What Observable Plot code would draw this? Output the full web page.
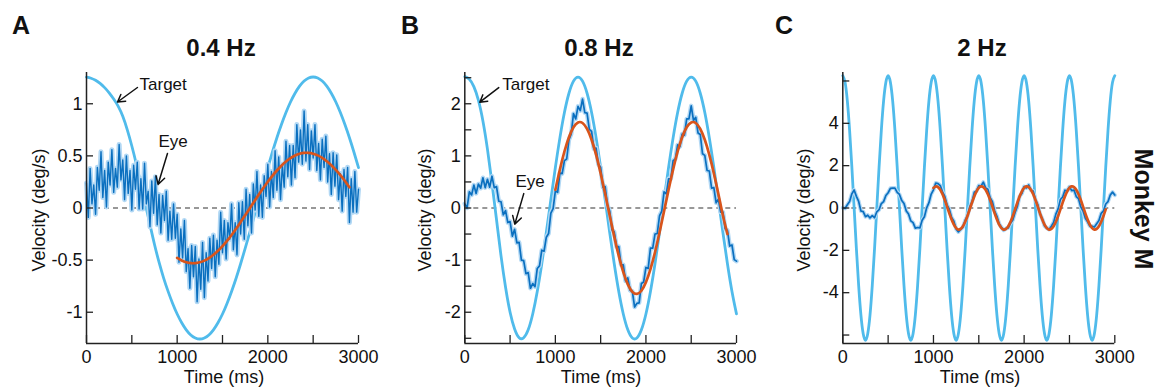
<!DOCTYPE html>
<html><head><meta charset="utf-8">
<script src="https://cdn.jsdelivr.net/npm/d3@7"></script>
<script src="https://cdn.jsdelivr.net/npm/@observablehq/plot@0.6"></script>
<style>
body{margin:0;background:#fff;font-family:"Liberation Sans",Arial,sans-serif;color:#111}
#wrap{position:relative;width:1159px;height:390px;overflow:hidden;background:#fff}
#wrap svg{position:absolute;top:0}
.lbl{position:absolute;white-space:nowrap;line-height:1}
.letter{font-weight:bold;font-size:25px}
.title{font-weight:bold;font-size:24px;transform:translate(-50%,0)}
.ylab{font-size:18px;transform:translate(-50%,-50%) rotate(-90deg)}
.xlab{font-size:18px;transform:translate(-50%,0)}
.monkey{font-weight:bold;font-size:25px;transform:translate(-50%,-50%) rotate(90deg)}
</style></head>
<body><div id="wrap"></div>
<script>
// ---------- data ----------
const tTarget = d3.range(0, 3001, 50);
const tTargetC = d3.range(0, 3001, 25);
const tEyeA = d3.range(0, 3001, 20);
const tEyeBC = d3.range(0, 3001, 25);
const tFitAB = d3.range(1000, 2901, 50);
const tFitC = d3.range(1000, 2901, 25);

const targetA = [1.255,1.245,1.225,1.195,1.155,1.105,1.045,0.975,0.88,0.75,0.595,0.42,0.23,0.035,-0.16,-0.35,-0.52,-0.67,-0.80,-0.916,-1.017,-1.101,-1.169,-1.218,-1.247,-1.257,-1.247,-1.218,-1.169,-1.101,-1.017,-0.916,-0.801,-0.674,-0.535,-0.388,-0.236,-0.079,0.079,0.236,0.388,0.535,0.674,0.801,0.916,1.017,1.101,1.169,1.218,1.247,1.257,1.247,1.218,1.169,1.101,1.017,0.916,0.801,0.674,0.535,0.388];
const targetB = [2.52,2.47,2.33,2.07,1.67,1.13,0.48,-0.22,-0.92,-1.52,-2.0,-2.32,-2.49,-2.49,-2.337,-2.033,-1.602,-1.070,-0.471,0.158,0.777,1.346,1.832,2.202,2.434,2.513,2.434,2.202,1.832,1.346,0.777,0.158,-0.471,-1.070,-1.602,-2.033,-2.337,-2.493,-2.493,-2.337,-2.033,-1.602,-1.070,-0.471,0.158,0.777,1.346,1.832,2.202,2.434,2.513,2.434,2.202,1.832,1.346,0.777,0.158,-0.471,-1.070,-1.602,-2.033];
const targetC = [
6.25,5.94,5.06,3.67,1.93,0,-1.93,-3.67,-5.06,-5.94,-6.25,-5.94,-5.06,-3.67,-1.93,0,1.93,3.67,5.06,5.94,
6.25,5.94,5.06,3.67,1.93,0,-1.93,-3.67,-5.06,-5.94,-6.25,-5.94,-5.06,-3.67,-1.93,0,1.93,3.67,5.06,5.94,
6.25,5.94,5.06,3.67,1.93,0,-1.93,-3.67,-5.06,-5.94,-6.25,-5.94,-5.06,-3.67,-1.93,0,1.93,3.67,5.06,5.94,
6.25,5.94,5.06,3.67,1.93,0,-1.93,-3.67,-5.06,-5.94,-6.25,-5.94,-5.06,-3.67,-1.93,0,1.93,3.67,5.06,5.94,
6.25,5.94,5.06,3.67,1.93,0,-1.93,-3.67,-5.06,-5.94,-6.25,-5.94,-5.06,-3.67,-1.93,0,1.93,3.67,5.06,5.94,
6.25,5.94,5.06,3.67,1.93,0,-1.93,-3.67,-5.06,-5.94,-6.25,-5.94,-5.06,-3.67,-1.93,0,1.93,3.67,5.06,5.94,
6.25];

const eyeA = [0.24,-0.09,0.38,0.04,0.22,-0.06,0.39,0.17,0.54,0.10,
0.36,0.01,0.44,0.22,0.56,0.15,0.38,0.20,0.61,0.27,
0.46,0.08,0.50,0.14,0.36,-0.02,0.41,0.18,0.44,-0.01,
0.28,-0.01,0.43,0.04,0.16,-0.18,0.26,-0.05,0.30,-0.16,
0.13,-0.24,0.12,-0.12,0.16,-0.31,-0.03,-0.30,0.04,-0.29,
-0.06,-0.52,-0.20,-0.48,-0.12,-0.61,-0.39,-0.77,-0.36,-0.66,
-0.37,-0.90,-0.49,-0.78,-0.33,-0.86,-0.43,-0.70,-0.29,-0.58,
-0.26,-0.66,-0.31,-0.54,-0.04,-0.43,-0.12,-0.49,-0.14,-0.30,
0.04,-0.40,-0.14,-0.45,0.05,-0.25,0.06,-0.30,0.18,-0.17,
0.13,-0.24,0.23,-0.02,0.35,-0.08,0.22,-0.09,0.31,0.11,
0.42,0.01,0.35,0.10,0.55,0.17,0.49,0.08,0.42,0.20,
0.64,0.30,0.60,0.22,0.60,0.29,0.80,0.44,0.75,0.42,
0.93,0.45,0.80,0.37,0.74,0.48,0.80,0.36,0.62,0.27,
0.66,0.39,0.69,0.25,0.52,0.13,0.53,0.21,0.51,0.08,
0.33,-0.03,0.37,0.11,0.39,-0.14,0.28,-0.04,0.35,-0.04,
0.18];
const eyeB = [0.08,0.00,0.31,0.25,0.44,0.28,0.46,0.38,0.58,0.39,
0.55,0.40,0.61,0.39,0.41,0.13,0.12,-0.13,-0.05,-0.28,
-0.26,-0.54,-0.41,-0.67,-0.66,-1.00,-1.01,-1.26,-1.24,-1.54,
-1.45,-1.51,-1.16,-1.11,-0.81,-0.83,-0.56,-0.49,-0.10,-0.01,
0.33,0.30,0.67,0.66,0.91,0.94,1.31,1.42,1.81,1.71,
1.95,1.87,2.09,1.83,1.82,1.51,1.47,1.14,1.15,0.84,
0.78,0.40,0.41,0.05,-0.06,-0.42,-0.46,-0.74,-0.74,-1.09,
-1.09,-1.40,-1.34,-1.58,-1.60,-1.90,-1.83,-1.82,-1.45,-1.42,
-1.14,-1.16,-0.77,-0.77,-0.50,-0.49,-0.15,-0.06,0.31,0.27,
0.56,0.56,0.91,0.94,1.21,1.18,1.42,1.40,1.71,1.71,
1.96,1.68,1.74,1.44,1.41,1.04,1.01,0.72,0.71,0.38,
0.39,0.10,0.17,-0.08,-0.08,-0.40,-0.43,-0.73,-0.71,-0.99,
-1.02];
const eyeC = [0.01,-0.02,0.15,0.31,0.67,0.85,0.55,0.31,-0.14,-0.17,
-0.41,-0.34,-0.47,-0.36,-0.46,-0.18,-0.08,0.21,0.30,0.59,
0.72,0.93,0.94,0.94,0.74,0.64,0.35,0.21,-0.14,-0.28,
-0.61,-0.69,-0.95,-0.92,-0.94,-0.58,-0.41,0.01,0.25,0.66,
0.86,1.18,1.15,1.06,0.76,0.55,0.14,-0.06,-0.45,-0.62,
-0.99,-1.13,-1.01,-0.90,-0.59,-0.37,0.05,0.29,0.74,0.80,
1.06,1.04,1.22,0.95,0.89,0.49,0.30,-0.14,-0.39,-0.75,
-0.91,-1.05,-0.97,-0.94,-0.72,-0.57,-0.21,0.07,0.55,0.69,
1.01,0.95,1.09,0.84,0.80,0.39,0.16,-0.28,-0.51,-0.84,
-0.95,-1.01,-0.86,-0.68,-0.29,-0.04,0.40,0.52,0.84,0.81,
1.00,0.82,0.85,0.54,0.44,0.05,-0.14,-0.49,-0.65,-0.86,
-0.86,-0.90,-0.74,-0.59,-0.25,-0.14,0.19,0.30,0.61,0.75,
0.61];

const fitA = [-0.478,-0.503,-0.520,-0.529,-0.529,-0.521,-0.505,-0.481,-0.449,-0.411,-0.365,-0.315,-0.259,-0.199,-0.135,-0.070,-0.004,0.063,0.128,0.192,0.252,0.309,0.360,0.406,0.446,0.478,0.503,0.520,0.529,0.529,0.521,0.505,0.481,0.449,0.411,0.365,0.315,0.259,0.199];
const fitB = [0.350,0.740,1.084,1.359,1.549,1.642,1.631,1.518,1.310,1.020,0.665,0.268,-0.145,-0.549,-0.919,-1.231,-1.466,-1.608,-1.649,-1.587,-1.425,-1.174,-0.849,-0.470,-0.062,0.350,0.740,1.084,1.359,1.549,1.642,1.631,1.518,1.310,1.020,0.665,0.268,-0.145,-0.500];
const fitC = [
0.948,1.018,0.988,0.861,0.650,0.375,0.064,-0.254,-0.547,-0.786,-0.948,-1.018,-0.988,-0.861,-0.650,-0.375,-0.064,0.254,0.547,0.786,
0.948,1.018,0.988,0.861,0.650,0.375,0.064,-0.254,-0.547,-0.786,-0.948,-1.018,-0.988,-0.861,-0.650,-0.375,-0.064,0.254,0.547,0.786,
0.948,1.018,0.988,0.861,0.650,0.375,0.064,-0.254,-0.547,-0.786,-0.948,-1.018,-0.988,-0.861,-0.650,-0.375,-0.064,0.254,0.547,0.786,
0.948,1.018,0.988,0.861,0.650,0.375,0.064,-0.254,-0.547,-0.786,-0.948,-1.018,-0.988,-0.861,-0.650,-0.375,-0.064];

const xTicks = [0,500,1000,1500,2000,2500,3000];
const xLabels = [0,1000,2000,3000];
const yTicksA = [-1,-0.5,0,0.5,1];
const yLabelsA = [-1,-0.5,0,0.5,1];
const yTicksB = [-2.5,-2,-1.5,-1,-0.5,0,0.5,1,1.5,2,2.5];
const yLabelsB = [-2,-1,0,1,2];
const yTicksC = [-6,-4,-2,0,2,4,6];
const yLabelsC = [-4,-2,0,2,4];

// annotation anchors (data units: ms, deg/s)
const notesA = [{t:585, v:1.185, text:"Target"}, {t:794, v:0.64, text:"Eye"}];
const arrowsA = [{t1:562, v1:1.156, t2:342, v2:1.017}, {t1:893, v1:0.523, t2:789, v2:0.226}];
const notesB = [{t:413, v:2.36, text:"Target"}, {t:560, v:0.51, text:"Eye"}];
const arrowsB = [{t1:375, v1:2.31, t2:166, v2:2.03}, {t1:651, v1:0.276, t2:552, v2:-0.31}];

// ---------- drawing ----------
const zip = (ts, vs) => vs.map((v, i) => ({t: ts[i], v}));
const fmt = d => String(d);

function panel(c) {
  const marks = [
    Plot.ruleY([0], {stroke:"#333", strokeDasharray:"5,4", strokeWidth:1.2}),
    Plot.line(zip(c.tT, c.target), {x:"t", y:"v", stroke:"#50bbeb", strokeWidth:2.8, curve:"natural"}),
    Plot.line(zip(c.tE, c.eye), {x:"t", y:"v", stroke:"#b2d8f4", strokeWidth:c.haloW}),
    Plot.line(zip(c.tE, c.eye), {x:"t", y:"v", stroke:"#0a6fbf", strokeWidth:c.eyeW}),
    Plot.line(zip(c.tF, c.fit), {x:"t", y:"v", stroke:"#d9541b", strokeWidth:2.7, curve:"natural"}),
    Plot.ruleX([0], {stroke:"#222", strokeWidth:1.5}),
    Plot.ruleY([c.yDomain[0]], {stroke:"#222", strokeWidth:1.5}),
    Plot.axisX({ticks:xTicks, tickSize:-8, tickPadding:15, stroke:"#222", strokeWidth:1.3,
      tickFormat: d => xLabels.includes(d) ? fmt(d) : "", label:null}),
    Plot.axisY({ticks:c.yTicks, tickSize:-7, tickPadding:11, stroke:"#222", strokeWidth:1.3,
      tickFormat: d => c.yLabels.includes(d) ? fmt(d) : "", label:null})
  ];
  if (c.notes) {
    marks.push(Plot.text(c.notes, {x:"t", y:"v", text:"text", textAnchor:"start", fontSize:17, fill:"#111"}));
    marks.push(Plot.arrow(c.arrows, {x1:"t1", y1:"v1", x2:"t2", y2:"v2", stroke:"#111", strokeWidth:1.5, headLength:9, bend:0}));
  }
  const svg = Plot.plot({
    width:c.width, height:390, marginTop:72, marginBottom:47,
    marginLeft:c.ml, marginRight:c.mr,
    x:{domain:[0,3000]}, y:{domain:c.yDomain},
    style:{fontFamily:"'Liberation Sans', Arial, sans-serif", fontSize:"18px", color:"#111", background:"transparent", overflow:"visible"},
    marks
  });
  svg.style.left = c.left + "px";
  return svg;
}

const wrap = document.getElementById("wrap");
wrap.appendChild(panel({left:0, width:380, ml:86, mr:22, yDomain:[-1.3,1.3], yTicks:yTicksA, yLabels:yLabelsA,
  tT:tTarget, target:targetA, tE:tEyeA, eye:eyeA, tF:tFitAB, fit:fitA, notes:notesA, arrows:arrowsA, eyeW:1.4, haloW:5}));
wrap.appendChild(panel({left:380, width:380, ml:84.3, mr:24, yDomain:[-2.6,2.6], yTicks:yTicksB, yLabels:yLabelsB,
  tT:tTarget, target:targetB, tE:tEyeBC, eye:eyeB, tF:tFitAB, fit:fitB, notes:notesB, arrows:arrowsB, eyeW:1.7, haloW:4.5}));
wrap.appendChild(panel({left:760, width:380, ml:82.3, mr:25.7, yDomain:[-6.4,6.4], yTicks:yTicksC, yLabels:yLabelsC,
  tT:tTargetC, target:targetC, tE:tEyeBC, eye:eyeC, tF:tFitC, fit:fitC, eyeW:1.7, haloW:4}));

const texts = [
  {cls:"letter", text:"A", x:12, y:13},
  {cls:"letter", text:"B", x:401, y:13},
  {cls:"letter", text:"C", x:775, y:13},
  {cls:"title", text:"0.4 Hz", x:221, y:36},
  {cls:"title", text:"0.8 Hz", x:599, y:36},
  {cls:"title", text:"2 Hz", x:982, y:36},
  {cls:"ylab", text:"Velocity (deg/s)", x:39, y:210},
  {cls:"ylab", text:"Velocity (deg/s)", x:425, y:210},
  {cls:"ylab", text:"Velocity (deg/s)", x:804, y:210},
  {cls:"xlab", text:"Time (ms)", x:224, y:368},
  {cls:"xlab", text:"Time (ms)", x:601, y:368},
  {cls:"xlab", text:"Time (ms)", x:980, y:368},
  {cls:"monkey", text:"Monkey M", x:1143, y:209}
];
for (const t of texts) {
  const d = document.createElement("div");
  d.className = "lbl " + t.cls;
  d.textContent = t.text;
  d.style.left = t.x + "px";
  d.style.top = t.y + "px";
  wrap.appendChild(d);
}
</script></body></html>
